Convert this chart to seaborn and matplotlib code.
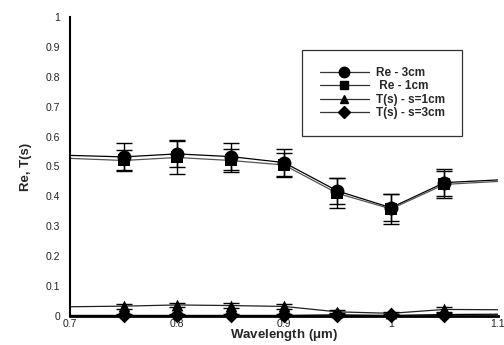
import matplotlib
matplotlib.use("Agg")
import matplotlib.pyplot as plt
from matplotlib.lines import Line2D
from matplotlib.ticker import MultipleLocator
import seaborn as sns
import pandas as pd

# Data
wavelength = [0.7, 0.75, 0.8, 0.85, 0.9, 0.95, 1.0, 1.05, 1.1]
re_3cm = [0.537, 0.532, 0.542, 0.533, 0.513, 0.418, 0.362, 0.446, 0.455]
re_1cm = [0.527, 0.520, 0.530, 0.520, 0.505, 0.410, 0.358, 0.440, 0.450]
ts_1cm = [0.031, 0.033, 0.037, 0.035, 0.032, 0.014, 0.009, 0.022, 0.021]
ts_3cm = [0.002, 0.002, 0.002, 0.002, 0.002, 0.004, 0.002, 0.005, 0.006]
err_re_3cm = [0.045, 0.045, 0.045, 0.045, 0.045, 0.045, 0.045, 0.045, 0.045]
err_re_1cm = [0.035, 0.035, 0.055, 0.04, 0.04, 0.05, 0.05, 0.045, 0.045]
err_ts_1cm = [0.008, 0.008, 0.008, 0.008, 0.008, 0.006, 0.006, 0.008, 0.008]
err_ts_3cm = [0.006, 0.006, 0.006, 0.006, 0.006, 0.006, 0.006, 0.006, 0.006]
labels = ["Re - 3cm", " Re - 1cm", "T(s) - s=1cm", "T(s) - s=3cm"]
markers = ["o", "s", "^", "D"]
msizes = [10, 8.5, 8.5, 8]

sns.set_style("white")
plt.rcParams['font.family'] = ['Liberation Sans', 'DejaVu Sans']

fig = plt.figure(figsize=(5.04, 3.45), dpi=100)
ax = fig.add_axes([0.139, 0.084, 0.849, 0.867])

series = [re_3cm, re_1cm, ts_1cm, ts_3cm]
errs = [err_re_3cm, err_re_1cm, err_ts_1cm, err_ts_3cm]
line_colors = ["black", "#555555", "#222222", "black"]
for vals, err, m, ms, lc in zip(series, errs, markers, msizes, line_colors):
    df = pd.DataFrame({"x": wavelength, "y": vals})
    sns.lineplot(data=df, x="x", y="y", ax=ax, color=lc, linewidth=0.9,
                 legend=False, zorder=2)
    inner = df.iloc[1:-1]
    ierr = err[1:-1]
    ax.errorbar(inner["x"], inner["y"], yerr=ierr, fmt="none", ecolor="black",
                elinewidth=1.0, capsize=6, capthick=1.0, zorder=3)
    sns.scatterplot(data=inner, x="x", y="y", ax=ax, marker=m, s=ms ** 2,
                    color="black", edgecolor="black", linewidth=0, zorder=4,
                    legend=False)
for coll in ax.collections:
    coll.set_clip_on(False)

ax.set_xlim(0.7, 1.1)
ax.set_ylim(0, 1)
ax.xaxis.set_minor_locator(MultipleLocator(0.02))
ax.yaxis.set_minor_locator(MultipleLocator(0.02))
ax.set_xticks([0.7, 0.8, 0.9, 1.0, 1.1])
ax.set_xticklabels(["0.7", "0.8", "0.9", "1", "1.1"])
ax.set_yticks([i / 10 for i in range(11)])
ax.set_yticklabels(["0"] + [f"{i/10:.1f}" for i in range(1, 10)] + ["1"])
ax.tick_params(which="major", direction="in", length=6, width=1.2,
               labelsize=7.5, color="black", labelcolor="#222222")
ax.tick_params(which="minor", direction="in", length=3, width=0.8, color="black")
ax.tick_params(axis="x", which="major", pad=2)
ax.tick_params(axis="y", which="major", pad=7)
for s in ["top", "right"]:
    ax.spines[s].set_visible(False)
ax.spines["left"].set_linewidth(1.5)
ax.spines["bottom"].set_linewidth(2.0)
ax.spines["left"].set_color("black")
ax.spines["bottom"].set_color("black")

ax.set_xlabel("Wavelength ($\\mathregular{\\mu}$m)", fontsize=9.5, fontweight="bold", labelpad=-1)
ax.set_ylabel("Re, T(s)", fontsize=9.5, fontweight="bold", labelpad=10)

handles = [Line2D([0], [0], color="#333333", lw=0.9, marker=m, markersize=ms * 0.75,
                  markerfacecolor="black", markeredgecolor="black")
           for m, ms in zip(markers, msizes)]
leg = ax.legend(handles, labels, loc="upper left", bbox_to_anchor=(0.543, 0.89),
                frameon=True, fancybox=False, edgecolor="black",
                prop={"weight": "bold", "size": 8.5}, handlelength=4.2,
                labelspacing=0.12, borderpad=1.45, handletextpad=0.55,
                borderaxespad=0)
leg.get_frame().set_linewidth(0.9)

fig.savefig("out.png", dpi=100)
